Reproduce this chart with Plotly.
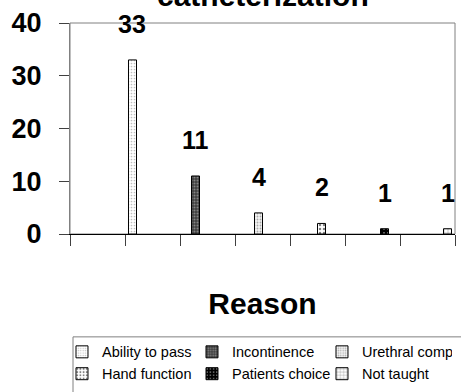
import plotly.graph_objects as go
import numpy as np

# ---- data ----
reasons = ["Ability to pass", "Incontinence", "Urethral comp.",
           "Hand function", "Patients choice", "Not taught"]
counts = [33, 11, 4, 2, 1, 1]
x_positions = [1, 2, 3, 4, 5, 6]          # category slot of each series (slot 0 is empty)
y_ticks = [0, 10, 20, 30, 40]

# ---- styles ----
patterns = [
    dict(shape=".", fgcolor="#808080", bgcolor="#ffffff", size=3, solidity=0.25),
    dict(shape=".", fgcolor="#c8c8c8", bgcolor="#404040", size=3, solidity=0.35),
    dict(shape=".", fgcolor="#606060", bgcolor="#f4f4f4", size=3, solidity=0.3),
    dict(shape=".", fgcolor="#000000", bgcolor="#ffffff", size=4, solidity=0.3),
    dict(shape=".", fgcolor="#ffffff", bgcolor="#000000", size=4, solidity=0.2),
    dict(shape="+", fgcolor="#000000", bgcolor="#ffffff", size=4, solidity=0.2),
]

FONT = "Liberation Sans, Arial, sans-serif"
bargap = 0.127
n = len(reasons)
group_w = 1 - bargap
slot_w = group_w / n

fig = go.Figure()
for i, (name, c, xp) in enumerate(zip(reasons, counts, x_positions)):
    fig.add_trace(go.Bar(
        x=[xp], y=[c], name=name,
        width=slot_w, offset=-group_w / 2 + i * slot_w,
        marker=dict(color=patterns[i]["bgcolor"], pattern=patterns[i],
                    line=dict(color="#000000", width=1)),
        hoverinfo="skip",
    ))

# value labels, centred over each bar
annotations = []
for i, (c, xp) in enumerate(zip(counts, x_positions)):
    centre = xp - group_w / 2 + (i + 0.5) * slot_w
    annotations.append(dict(
        x=centre, y=c, xref="x", yref="y", text=str(c), showarrow=False,
        yanchor="bottom", yshift=20,
        font=dict(family=FONT, size=25, color="#000000", weight="bold"),
    ))

# partially visible chart title
annotations.append(dict(
    x=0.5, y=1, xref="paper", yref="paper", text="catheterization",
    showarrow=False, yanchor="bottom", yshift=9,
    font=dict(family=FONT, size=30, color="#000000", weight="bold"),
))

fig.update_layout(
    width=461, height=392,
    margin=dict(l=70, r=6, t=23, b=158, autoexpand=False),
    paper_bgcolor="#ffffff", plot_bgcolor="#ffffff",
    barmode="overlay",
    showlegend=True,
    legend=dict(
        orientation="h", x=-0.0208, xanchor="left", y=-0.483, yanchor="top",
        font=dict(family=FONT, size=14.5, color="#000000"),
        entrywidth=85, entrywidthmode="pixels",
        bgcolor="rgba(0,0,0,0)", borderwidth=0,
        traceorder="normal",
    ),
    annotations=annotations,
    shapes=[
        # plot area border
        dict(type="rect", xref="paper", yref="paper", x0=0, x1=1, y0=0, y1=1,
             line=dict(color="#808080", width=1), layer="below"),
        # legend frame
        dict(type="rect", xref="paper", yref="paper", x0=0.0078, x1=1.1,
             y0=-0.4875, y1=-1.0, line=dict(color="#808080", width=1),
             fillcolor="rgba(0,0,0,0)", layer="above"),
    ],
)

fig.update_xaxes(
    range=[-0.5, 6.5], automargin=False,
    tickmode="array", tickvals=list(np.arange(-0.5, 7.0, 1.0)),
    showticklabels=False,
    ticks="outside", ticklen=11, tickcolor="#404040", tickwidth=1,
    showline=True, linecolor="#000000", linewidth=1,
    showgrid=False, zeroline=False,
    title=dict(text="Reason", standoff=47,
               font=dict(family=FONT, size=30, color="#000000", weight="bold")),
)
fig.update_yaxes(
    range=[0, 40], tickmode="array", tickvals=y_ticks, automargin=False,
    ticks="outside", ticklen=10, tickcolor="#404040", tickwidth=1,
    showline=True, linecolor="#808080", linewidth=1,
    showgrid=False, zeroline=False,
    ticklabelstandoff=12,
    tickfont=dict(family=FONT, size=27, color="#000000", weight="bold"),
)

fig.write_html("out.html", config={"displayModeBar": False},
               post_script="document.body.style.margin='0';")
